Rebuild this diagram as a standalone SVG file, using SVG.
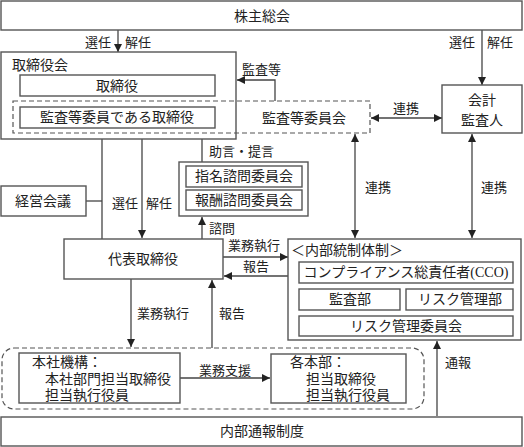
<svg xmlns="http://www.w3.org/2000/svg" width="524" height="447" viewBox="0 0 524 447">
<defs>
<marker id="ah" markerUnits="userSpaceOnUse" markerWidth="9" markerHeight="8" refX="8" refY="4" orient="auto-start-reverse"><path d="M0,0 L8,4 L0,8 z" fill="#222"/></marker>
<style>
.box{fill:#fff;stroke:#555;stroke-width:1.4}
.dash{fill:none;stroke:#555;stroke-width:1.2;stroke-dasharray:5,3}
.t{font-family:"Liberation Serif","Noto Sans CJK JP",serif;font-size:14px;fill:#222}
.l{font-family:"Liberation Serif","Noto Sans CJK JP",serif;font-size:13px;fill:#222}
.m{text-anchor:middle}
.c{fill:none;stroke:#444;stroke-width:1.3}
.a{marker-end:url(#ah)}
.d{marker-start:url(#ah);marker-end:url(#ah)}
</style>
</defs>
<g id="connectors">
<path class="c a" d="M118,30 V52"/>
<path class="c a" d="M482,30 V85"/>
<path class="c a" d="M275,101 V80 H237"/>
<path class="c d" d="M371,118 H442"/>
<path class="c d" d="M355,134 V238"/>
<path class="c d" d="M472,134 V238"/>
<path class="c" d="M86,201 H102"/>
<path class="c" d="M102,139 V239"/>
<path class="c a" d="M142,139 V238"/>
<path class="c" d="M202,139 V162"/>
<path class="c a" d="M202,239 V217"/>
<path class="c a" d="M223,257 H288"/>
<path class="c a" d="M288,276 H224"/>
<path class="c a" d="M131,279 V347"/>
<path class="c a" d="M212,348 V280"/>
<path class="c a" d="M180,378 H270"/>
<path class="c a" d="M437,416 V341"/>
<text class="l" x="85" y="47">選任</text>
<text class="l" x="125" y="47">解任</text>
<text class="l" x="449" y="47">選任</text>
<text class="l" x="487" y="47">解任</text>
<text class="l" x="242" y="74">監査等</text>
<text class="l" x="393" y="113">連携</text>
<text class="l" x="365" y="192">連携</text>
<text class="l" x="481" y="192">連携</text>
<text class="l" x="209" y="156">助言・提言</text>
<text class="l" x="112" y="208">選任</text>
<text class="l" x="146" y="208">解任</text>
<text class="l" x="209" y="233">諮問</text>
<text class="l" x="228" y="250">業務執行</text>
<text class="l" x="243" y="271">報告</text>
<text class="l" x="137" y="318">業務執行</text>
<text class="l" x="219" y="318">報告</text>
<text class="l" x="199" y="375">業務支援</text>
<text class="l" x="445" y="367">通報</text>
</g>
<g id="shareholders">
<rect class="box" x="1" y="1" width="521" height="29"/>
<text class="t m" x="262" y="21">株主総会</text>
</g>
<g id="board">
<rect class="box" x="1" y="52" width="235" height="87"/>
<text class="t" x="12" y="70">取締役会</text>
<rect class="box" x="20" y="75" width="195" height="21"/>
<text class="t m" x="117" y="91">取締役</text>
</g>
<g id="audit-committee">
<rect class="dash" x="13" y="101" width="357" height="32"/>
<rect class="box" x="20" y="107" width="195" height="21"/>
<text class="t m" x="117" y="122">監査等委員である取締役</text>
<text class="t" x="262" y="123">監査等委員会</text>
</g>
<g id="accounting-auditor">
<rect class="box" x="442" y="85" width="80" height="48"/>
<text class="t m" x="482" y="105">会計</text>
<text class="t m" x="482" y="125">監査人</text>
</g>
<g id="advisory">
<rect class="box" x="179" y="162" width="129" height="54"/>
<rect class="box" x="186" y="166" width="116" height="21"/>
<text class="t m" x="244" y="181">指名諮問委員会</text>
<rect class="box" x="186" y="190" width="116" height="20"/>
<text class="t m" x="244" y="205">報酬諮問委員会</text>
</g>
<g id="management-meeting">
<rect class="box" x="1" y="186" width="85" height="30"/>
<text class="t m" x="43" y="206">経営会議</text>
</g>
<g id="representative">
<rect class="box" x="64" y="239" width="159" height="40"/>
<text class="t m" x="143" y="264">代表取締役</text>
</g>
<g id="internal-control">
<rect class="box" x="288" y="239" width="233" height="101"/>
<text class="t" x="291" y="255">＜内部統制体制＞</text>
<rect class="box" x="299" y="262" width="214" height="21"/>
<text class="t m" x="406" y="277">コンプライアンス総責任者(CCO)</text>
<rect class="box" x="299" y="289" width="101" height="21"/>
<text class="t m" x="350" y="304">監査部</text>
<rect class="box" x="406" y="289" width="107" height="21"/>
<text class="t m" x="460" y="304">リスク管理部</text>
<rect class="box" x="299" y="316" width="214" height="20"/>
<text class="t m" x="406" y="331">リスク管理委員会</text>
</g>
<g id="execution-group">
<rect class="dash" x="2" y="348" width="422" height="61" rx="12" stroke-dasharray="3,2"/>
</g>
<g id="headquarters">
<rect class="box" x="19" y="353" width="161" height="50"/>
<text class="t" x="32" y="367">本社機構：</text>
<text class="t" x="45" y="384">本社部門担当取締役</text>
<text class="t" x="45" y="400">担当執行役員</text>
</g>
<g id="divisions">
<rect class="box" x="271" y="354" width="135" height="49"/>
<text class="t" x="290" y="367">各本部：</text>
<text class="t" x="306" y="384">担当取締役</text>
<text class="t" x="306" y="400">担当執行役員</text>
</g>
<g id="whistleblowing">
<rect class="box" x="1" y="417" width="521" height="29"/>
<text class="t m" x="262" y="436">内部通報制度</text>
</g>
</svg>
